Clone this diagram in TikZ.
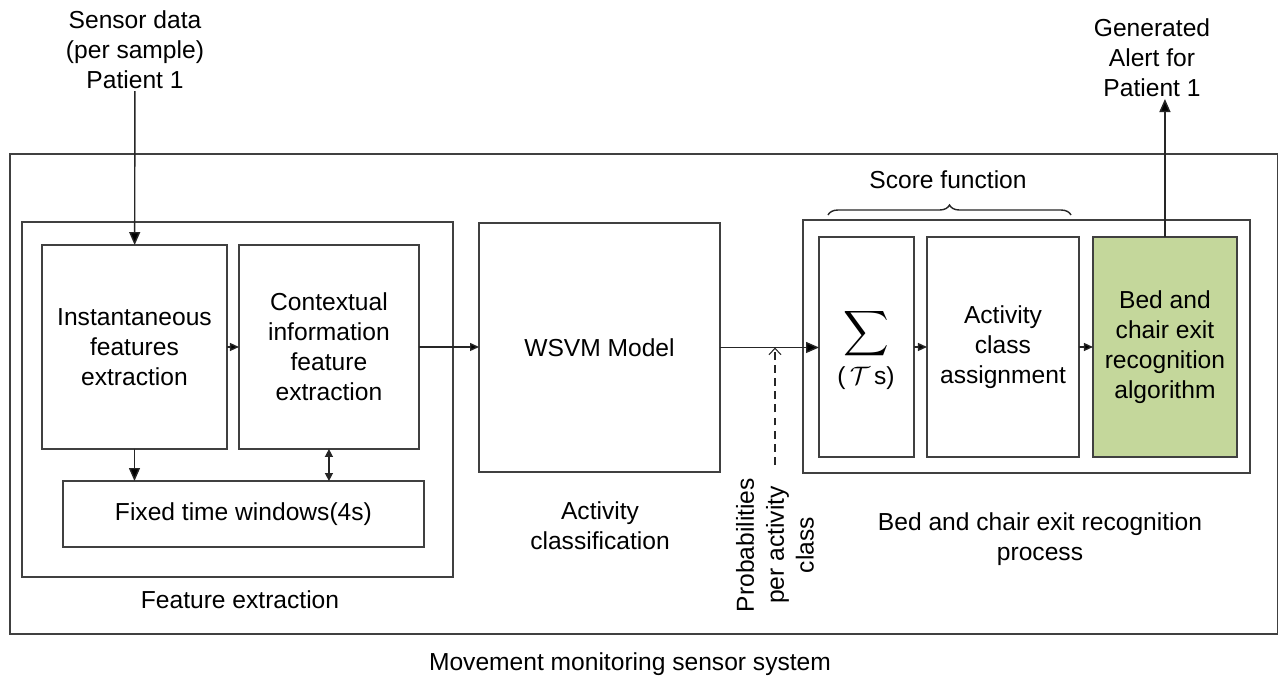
\documentclass[tikz,border=0pt]{standalone}
\usepackage{fontspec}
\setmainfont{Liberation Sans}
\usepackage{tikz}
\usetikzlibrary{arrows.meta,positioning,decorations.pathreplacing}
\usepackage{amsmath,amssymb}

\definecolor{exitgreen}{RGB}{196,215,155}

\begin{document}
\begin{tikzpicture}[
  x=0.02cm, y=-0.02cm,
  box/.style={draw=black!75, line width=0.8pt, align=center, inner sep=2pt, outer sep=0pt,
    font=\fontsize{14}{17}\selectfont},
  frame/.style={draw=black!75, line width=0.8pt, outer sep=0pt, inner sep=0pt},
  lbl/.style={align=center, font=\fontsize{14}{17}\selectfont, inner sep=1pt},
  conn/.style={draw=black!85, line width=0.8pt},
  bigtip/.style={-{Triangle[length=2.6mm,width=2.2mm,fill=black]}},
  smalltip/.style={-{Triangle[length=1.8mm,width=1.6mm,fill=black]}}
]
\useasboundingbox (0,0) rectangle (1282,681);

% outer frames
\node[frame, anchor=north west, minimum width=25.36cm, minimum height=9.6cm] (system) at (10,154) {};
\node[frame, anchor=north west, minimum width=8.62cm, minimum height=7.1cm] (featgroup) at (22,222) {};
\node[frame, anchor=north west, minimum width=8.94cm, minimum height=5.06cm] (recgroup) at (803,220) {};

% feature extraction
\node[box, anchor=north west, minimum width=3.7cm, minimum height=4.08cm] (inst) at (42,245) {Instantaneous\\features\\extraction};
\node[box, right=0.24cm of inst, minimum width=3.6cm, minimum height=4.08cm] (ctx) {Contextual\\information\\feature\\extraction};
\node[box, anchor=north west, minimum width=7.22cm, minimum height=1.32cm] (fixed) at (63,481) {Fixed time windows(4s)};

% classifier
\node[box, anchor=north west, minimum width=4.82cm, minimum height=4.98cm] (wsvm) at (479,223) {WSVM Model};

% recognition process
\node[box, anchor=north west, minimum width=1.9cm, minimum height=4.4cm] (sum) at (819,237) {};
\node[box, right=0.26cm of sum, minimum width=3.04cm, minimum height=4.4cm] (assign) {Activity\\class\\assignment};
\node[box, right=0.28cm of assign, minimum width=2.88cm, minimum height=4.4cm, fill=exitgreen] (exitalg) {Bed and\\chair exit\\recognition\\algorithm};
\node[lbl, font=\fontsize{18}{18}\selectfont] (sumsym) at (866,334) {$\displaystyle\sum$};
\node[lbl] (sumarg) at (866,378) {(\,$\mathcal{T}$\,s)};

% labels
\node[lbl] (sensor) at (135,50) {Sensor data\\(per sample)\\Patient 1};
\node[lbl] (alert) at (1152,58) {Generated\\Alert for\\Patient 1};
\node[lbl] (score) at (948,180) {Score function};
\node[lbl] (featlabel) at (240,600) {Feature extraction};
\node[lbl] (actlabel) at (600,526) {Activity\\classification};
\node[lbl] (proclabel) at (1040,539) {Bed and chair exit recognition\\process};
\node[lbl] (systemlabel) at (630,664) {Movement monitoring sensor system};
\node[lbl, rotate=90] (problabel) at (775,545) {Probabilities\\per activity\\class};
\coordinate (probtail) at (775,465);

% connectors
\draw[conn, bigtip] (sensor) -- (inst);
\draw[conn, smalltip] (inst) -- (ctx);
\draw[conn, smalltip] (ctx.east) -- (ctx.east -| wsvm.west);
\draw[conn, bigtip] (wsvm.east) -- (wsvm.east -| sum.west);
\draw[conn, smalltip] (sum) -- (assign);
\draw[conn, smalltip] (assign) -- (exitalg);
\draw[conn, bigtip] (exitalg.north) -- (exitalg.north |- alert.south);
\draw[conn, bigtip] (inst.south) -- (inst.south |- fixed.north);
\draw[conn, {Triangle[length=1.6mm,width=1.6mm]}-{Triangle[length=1.6mm,width=1.6mm]}] (ctx.south) -- (ctx.south |- fixed.north);
\draw[conn, line width=0.6pt, dash pattern=on 4.5pt off 3pt, -{Straight Barb[length=1.3mm,width=2.4mm]}] (probtail) -- (probtail |- wsvm.east);
\draw[conn, decorate, decoration={brace, amplitude=0.2cm}] (828,215) -- (1071,215);
\end{tikzpicture}
\end{document}
